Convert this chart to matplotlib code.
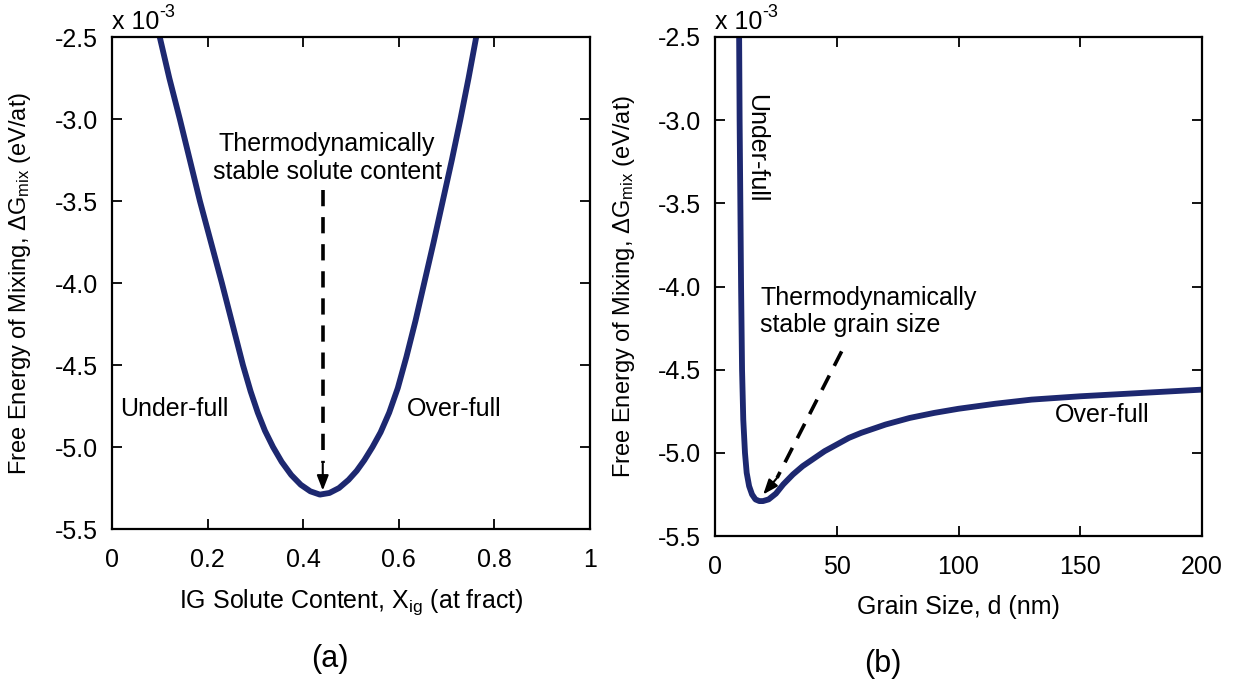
import matplotlib
matplotlib.use("Agg")
import matplotlib.pyplot as plt
import numpy as np

plt.rcParams['font.family'] = ['Liberation Sans', 'DejaVu Sans']
plt.rcParams['mathtext.fontset'] = 'custom'
plt.rcParams['mathtext.rm'] = 'Liberation Sans'
plt.rcParams['mathtext.it'] = 'Liberation Sans'

# (a) free energy vs IG solute content (values in units of 1e-3 eV/at)
x_content = [0.100, 0.120, 0.142, 0.163, 0.184, 0.207, 0.230, 0.252, 0.274, 0.290,
             0.305, 0.320, 0.337, 0.355, 0.375, 0.395, 0.415, 0.435, 0.455, 0.475,
             0.495, 0.512, 0.528, 0.545, 0.562, 0.580, 0.598, 0.616, 0.635, 0.654,
             0.673, 0.692, 0.711, 0.729, 0.746, 0.762]
g_content = [-2.50, -2.75, -3.00, -3.25, -3.50, -3.75, -4.00, -4.25, -4.50, -4.66,
             -4.79, -4.90, -5.00, -5.09, -5.17, -5.23, -5.27, -5.29, -5.28, -5.25,
             -5.20, -5.145, -5.08, -5.00, -4.91, -4.79, -4.64, -4.45, -4.23, -3.99,
             -3.75, -3.50, -3.25, -3.00, -2.75, -2.50]

# (b) free energy vs grain size
d_nm = [9.9, 10.1, 10.4, 10.7, 11.1, 11.6, 12.3, 13.0, 14.0, 15.2, 16.6, 18.2,
        19.7, 22, 25, 28, 32, 36, 40, 45, 50, 55, 60, 70, 80, 90, 100, 115,
        130, 150, 175, 200]
g_size = [-2.50, -3.00, -3.50, -4.00, -4.50, -4.80, -5.00, -5.12, -5.20, -5.25, -5.28, -5.29,
          -5.29, -5.28, -5.245, -5.19, -5.13, -5.08, -5.04, -4.99, -4.95, -4.91, -4.88, -4.83,
          -4.79, -4.76, -4.735, -4.705, -4.68, -4.66, -4.64, -4.62]

yticks = [-2.5, -3.0, -3.5, -4.0, -4.5, -5.0, -5.5]
ytick_labels = ['-2.5', '-3.0', '-3.5', '-4.0', '-4.5', '-5.0', '-5.5']

line_color = '#1d2870'
ylabel = 'Free Energy of Mixing, $\\Delta$G$_{\\mathrm{mix}}$ (eV/at)'
fs = 18


def dashed_arrow(ax, start, end, head_from):
    ax.plot([start[0], head_from[0]], [start[1], head_from[1]], color='black',
            lw=2.6, dashes=(4.5, 3))
    ax.annotate('', xy=end, xytext=head_from,
                arrowprops=dict(arrowstyle='-|>,head_length=0.9,head_width=0.35',
                                lw=1.5, color='black', shrinkA=0, shrinkB=0))


fig = plt.figure(figsize=(12.36, 6.85), dpi=100)
ax1 = fig.add_axes([0.0906, 0.2277, 0.3867, 0.718])
ax2 = fig.add_axes([0.5785, 0.2175, 0.394, 0.7285])

for ax in (ax1, ax2):
    ax.set_ylim(-5.5, -2.5)
    ax.set_yticks(yticks)
    ax.set_yticklabels(ytick_labels)
    ax.tick_params(direction='in', length=7, width=1.3, top=True, right=True,
                   labelsize=fs)
    ax.tick_params(axis='x', pad=14)
    ax.tick_params(axis='y', pad=10)
    for s in ax.spines.values():
        s.set_linewidth(1.6)
    ax.set_ylabel(ylabel, fontsize=17)
    base = ax.text(0.0, 1.016, 'x 10', transform=ax.transAxes,
                   fontsize=fs, ha='left', va='baseline')
    ax.annotate('-3', xy=(1.0, 0.55), xycoords=base, fontsize=13,
                ha='left', va='bottom')

ax1.yaxis.set_label_coords(-0.165, 0.5)
ax2.yaxis.set_label_coords(-0.160, 0.5)

# panel (a)
ax1.plot(x_content, g_content, color=line_color, lw=4.2, solid_capstyle='butt')
ax1.set_xlim(0, 1)
ax1.set_xticks([0, 0.2, 0.4, 0.6, 0.8, 1])
ax1.set_xticklabels(['0', '0.2', '0.4', '0.6', '0.8', '1'])
ax1.set_xlabel('IG Solute Content, X$_{\\mathrm{ig}}$ (at fract)', fontsize=fs, labelpad=11)
ax1.text(0.45, -3.235, 'Thermodynamically\nstable solute content', fontsize=fs,
         ha='center', va='center', linespacing=1.2)
dashed_arrow(ax1, (0.441, -3.43), (0.441, -5.265), (0.441, -5.10))
ax1.text(0.017, -4.77, 'Under-full', fontsize=fs, ha='left', va='center')
ax1.text(0.617, -4.77, 'Over-full', fontsize=fs, ha='left', va='center')

# panel (b)
ax2.plot(d_nm, g_size, color=line_color, lw=4.2, solid_capstyle='butt')
ax2.set_xlim(0, 200)
ax2.set_xticks([0, 50, 100, 150, 200])
ax2.set_xlabel('Grain Size, d (nm)', fontsize=fs, labelpad=11)
ax2.text(17.0, -3.17, 'Under-full', fontsize=fs, rotation=270,
         ha='center', va='center')
ax2.text(18.5, -4.15, 'Thermodynamically\nstable grain size', fontsize=fs,
         ha='left', va='center', linespacing=1.2)
dashed_arrow(ax2, (52, -4.39), (19.8, -5.25), (25.5, -5.15))
ax2.text(139.5, -4.77, 'Over-full', fontsize=fs, ha='left', va='center')

fig.text(0.267, 0.038, '(a)', fontsize=22, ha='center', va='center')
fig.text(0.714, 0.030, '(b)', fontsize=22, ha='center', va='center')

fig.savefig('out.png', dpi=100)
